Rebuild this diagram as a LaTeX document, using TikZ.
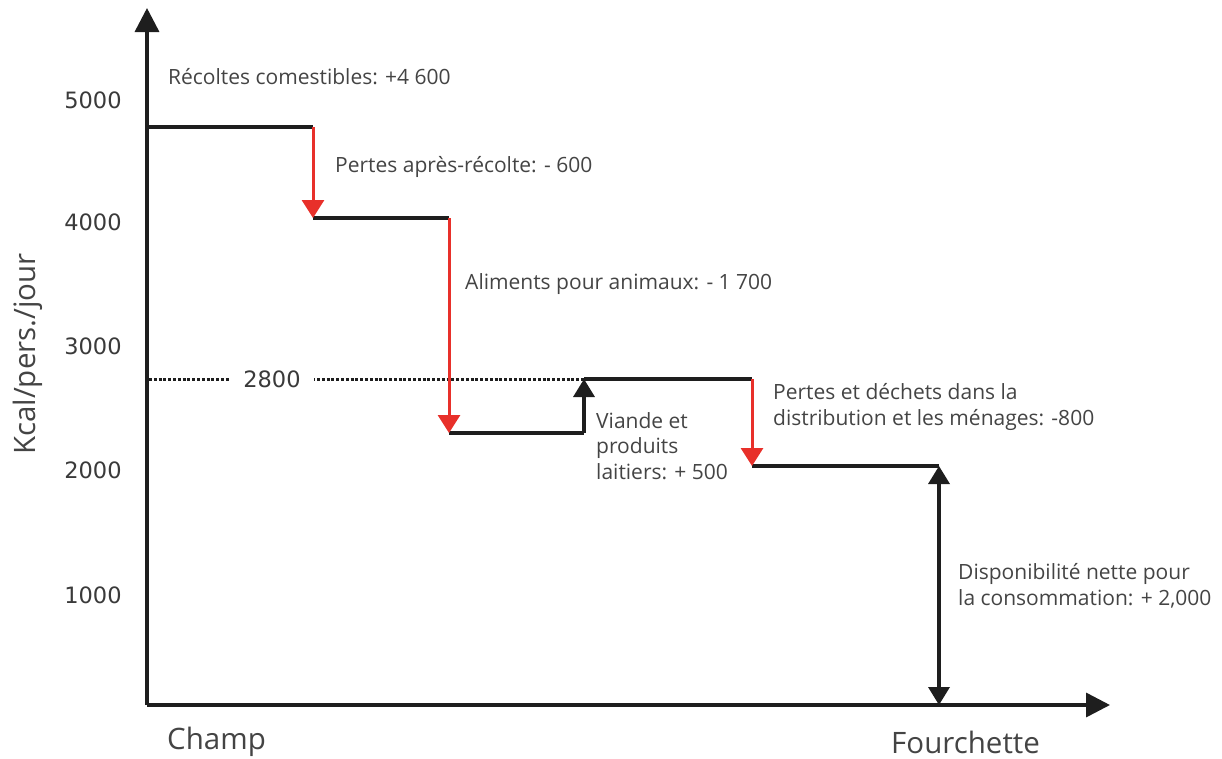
\documentclass[tikz,border=0pt]{standalone}
\usepackage{fontspec}
\setmainfont{Open Sans}
\newfontfamily\tickfont{DejaVu Sans}
\usetikzlibrary{arrows.meta}
\definecolor{txt}{HTML}{444444}
\definecolor{tick}{HTML}{3A3A3A}
\definecolor{lossred}{HTML}{E8302A}
\definecolor{axis}{HTML}{1E1E1E}
\tikzset{
  lbl/.style={anchor=west, text=txt, inner sep=0pt, align=left, font=\fontsize{21}{25.5}\selectfont},
  ticklbl/.style={text=tick, inner sep=0pt, font=\tickfont\fontsize{22.5}{26}\selectfont},
  axlbl/.style={text=txt, inner sep=0pt, font=\fontsize{29.5}{34}\selectfont},
  axisline/.style={draw=axis, line width=3.5pt, -{Triangle[width=24pt,length=24pt]}},
  stepline/.style={draw=axis, line width=3.5pt},
  lossarrow/.style={draw=lossred, line width=3pt, -{Triangle[width=22pt,length=18pt]}},
  gainarrow/.style={draw=axis, line width=3.5pt, -{Triangle[width=21pt,length=18pt]}},
  netarrow/.style={draw=axis, line width=3.5pt, {Triangle[width=21pt,length=18pt]}-{Triangle[width=21pt,length=18pt]}},
  refline/.style={draw=axis, line width=3pt, dash pattern=on 3pt off 1.8pt},
}
\begin{document}
\begin{tikzpicture}[x=1pt,y=-1pt]
\useasboundingbox (0,0) rectangle (1222,758);
% axes
\coordinate (O) at (147,705);
\coordinate (ytop) at (147,8);
\coordinate (xend) at (1110,705);
\draw[axisline] (O) -- (ytop);
\draw[axisline] (O) -- (xend);
% tick labels
\node[ticklbl] (t5) at (93,100) {5000};
\node[ticklbl] (t4) at (93,222) {4000};
\node[ticklbl] (t3) at (93,346) {3000};
\node[ticklbl] (t2) at (93,470) {2000};
\node[ticklbl] (t1) at (93,595) {1000};
% axis labels
\node[axlbl, rotate=90] (ylab) at (28,354) {Kcal/pers./jour};
\node[axlbl, anchor=west] (champ) at (167,742) {Champ};
\node[axlbl, anchor=west] (fourch) at (891,742) {Fourchette};
% step points
\coordinate (a0) at (147,127);
\coordinate (a1) at (313,127);
\coordinate (a2) at (313,218);
\coordinate (a3) at (449,218);
\coordinate (a4) at (449,433);
\coordinate (a5) at (584,433);
\coordinate (a6) at (584,379);
\coordinate (a7) at (752,379);
\coordinate (a8) at (752,466);
\coordinate (a9) at (939,466);
\coordinate (a10) at (939,705);
\coordinate (d0) at (149,379);
% reference line 2800
\draw[refline] (d0) -- (a6);
\node[ticklbl, fill=white, inner xsep=13pt, inner ysep=5pt] (v2800) at (272,379) {2800};
% steps
\draw[stepline] (a0) -- (a1);
\draw[stepline] (a2) -- (a3);
\draw[stepline] (a4) -- (a5);
\draw[stepline] (a6) -- (a7);
\draw[stepline] (a8) -- (a9);
% arrows
\draw[lossarrow] (a1) -- (a2);
\draw[lossarrow] (a3) -- (a4);
\draw[gainarrow] (a5) -- (a6);
\draw[lossarrow] (a7) -- (a8);
\draw[netarrow] (a9) -- (a10);
% labels
\node[lbl] (l1) at (168,77) {Récoltes comestibles: +4 600};
\node[lbl] (l2) at (335,167) {Pertes après-récolte: - 600};
\node[lbl] (l3) at (465,284) {Aliments pour animaux: - 1 700};
\node[lbl] (l4) at (596,446) {Viande et\\produits\\laitiers: + 500};
\node[lbl] (l5) at (773,407) {Pertes et déchets dans la\\distribution et les ménages: -800};
\node[lbl] (l6) at (958,586) {Disponibilité nette pour\\la consommation: + 2,000};
\end{tikzpicture}
\end{document}
